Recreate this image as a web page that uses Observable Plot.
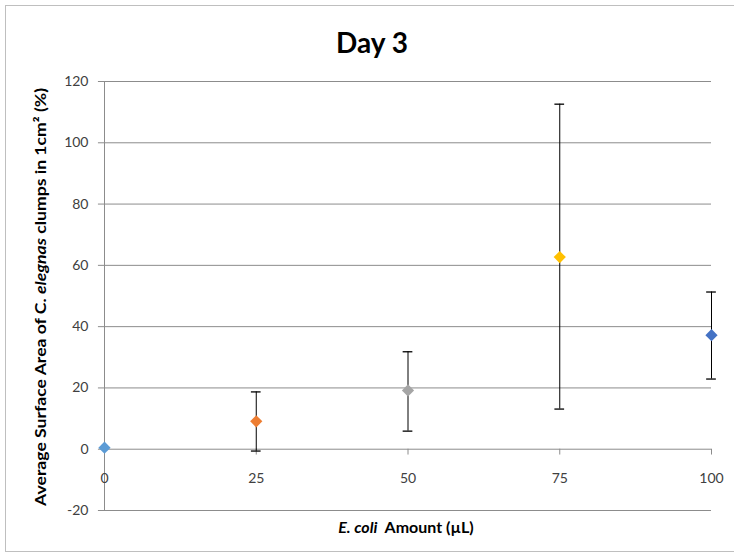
<!DOCTYPE html>
<html><head><meta charset="utf-8">
<script src="https://cdn.jsdelivr.net/npm/d3@7"></script>
<script src="https://cdn.jsdelivr.net/npm/@observablehq/plot@0.6"></script>
<style>body{margin:0;background:#fff}</style>
</head><body><div id="chart"></div>
<script>
const amounts = [0, 25, 50, 75, 100];
const means = [0.5, 9.1, 19.2, 62.7, 37.2];
const upper = [0.5, 18.7, 31.8, 112.6, 51.3];
const lower = [0.5, -0.6, 5.9, 13.1, 22.9];
const colors = ["#5b9bd5", "#ed7d31", "#a5a5a5", "#ffc000", "#4472c4"];
const yTicks = [-20, 0, 20, 40, 60, 80, 100, 120];
const xTicks = [0, 25, 50, 75, 100];

const data = amounts.map((a, i) => ({x: a, y: means[i], hi: upper[i], lo: lower[i], c: colors[i]}));
const err = data.filter(d => d.hi !== d.lo);
const capHalf = 0.8;

const grid = "#8c8c8c";
const plot = Plot.plot({
  width: 734, height: 556,
  marginLeft: 104, marginRight: 23, marginTop: 81, marginBottom: 46,
  x: {domain: [0, 100], axis: null},
  y: {domain: [-20, 120], axis: null},
  color: {type: "identity"},
  style: {fontFamily: "Lato, 'Open Sans', sans-serif", fontSize: "14px", color: "#404040", background: "#fff"},
  marks: [
    Plot.ruleY(yTicks, {stroke: grid, strokeWidth: 1}),
    Plot.ruleY(yTicks, {x1: -1, x2: 0, stroke: grid}),
    Plot.ruleX([0], {y1: -20, y2: 120, stroke: grid}),
    Plot.ruleX(xTicks, {x: d => d, y1: 0, y2: -1.9, stroke: grid}),
    Plot.text(yTicks, {x: 0, y: d => d, text: d => String(d), textAnchor: "end", dx: -16, fill: "#404040"}),
    Plot.text(xTicks, {x: d => d, y: 0, text: d => String(d), dy: 29, fill: "#404040"}),
    Plot.ruleX(err, {x: "x", y1: "lo", y2: "hi", stroke: "#000", strokeWidth: 1}),
    Plot.ruleY(err, {y: "hi", x1: d => d.x - capHalf, x2: d => d.x + capHalf, stroke: "#000", strokeWidth: 1.3}),
    Plot.ruleY(err, {y: "lo", x1: d => d.x - capHalf, x2: d => d.x + capHalf, stroke: "#000", strokeWidth: 1.3}),
    Plot.dot(data, {x: "x", y: "y", symbol: "diamond2", r: 5.5, fill: "c", stroke: "none"})
  ]
});

const svg = d3.select(plot);
svg.insert("rect", ":first-child")
  .attr("x", 5.5).attr("y", 5.5).attr("width", 740).attr("height", 546)
  .attr("fill", "#fff").attr("stroke", "#bfbfbf");

svg.append("text").attr("x", 372).attr("y", 53).attr("text-anchor", "middle")
  .attr("font-family", "Lato, sans-serif").attr("font-weight", "bold").attr("font-size", 28).attr("fill", "#000")
  .text("Day 3");

const yl = svg.append("text").attr("transform", "translate(46,297) rotate(-90)")
  .attr("text-anchor", "middle").attr("font-family", "Lato, sans-serif").attr("font-weight", "bold")
  .attr("font-size", 15).attr("fill", "#000")
  .attr("textLength", 418).attr("lengthAdjust", "spacingAndGlyphs");
yl.append("tspan").text("Average Surface Area of C. ");
yl.append("tspan").attr("font-style", "italic").text("elegnas");
yl.append("tspan").text(" clumps in 1cm² (%)");

const xl = svg.append("text").attr("x", 406).attr("y", 533).attr("text-anchor", "middle")
  .attr("font-family", "Lato, sans-serif").attr("font-weight", "bold").attr("font-size", 16).attr("fill", "#000");
xl.append("tspan").attr("font-style", "italic").text("E. coli");
xl.append("tspan").text("  Amount (µL)");

document.getElementById("chart").appendChild(plot);
</script>
</body></html>
